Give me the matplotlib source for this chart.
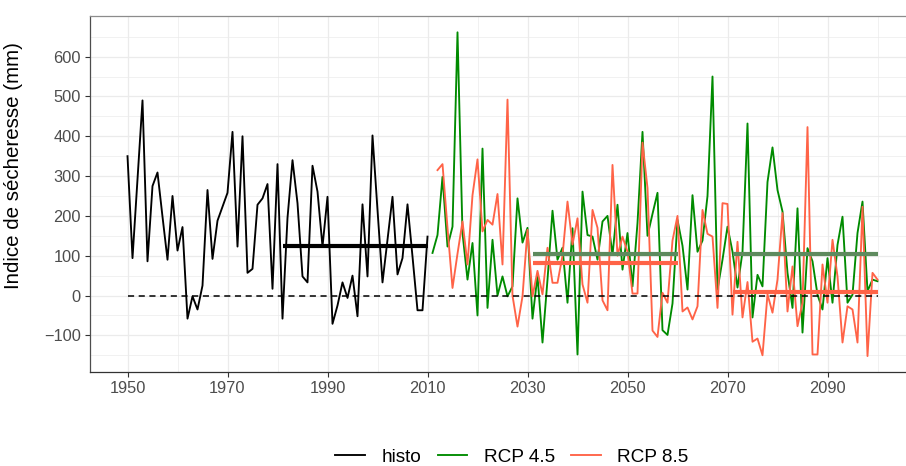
import numpy as np
import matplotlib
matplotlib.use("Agg")
import matplotlib.pyplot as plt
from matplotlib.lines import Line2D

plt.rcParams['font.family'] = ['Liberation Sans', 'DejaVu Sans']

# indice de secheresse annuel (mm)
annees_histo = np.arange(1950, 2011)
histo = [350, 94, 292, 490, 86, 275, 309, 198, 90, 250,
         113, 172, -58, -2, -35, 25, 265, 92, 188, 223,
         258, 411, 123, 400, 57, 67, 228, 244, 280, 17,
         330, -58, 195, 340, 232, 48, 33, 326, 261, 123,
         248, -71, -25, 33, -6, 50, -52, 229, 48, 402,
         215, 33, 140, 248, 53, 94, 229, 98, -37, -37, 148]

annees_rcp45 = np.arange(2011, 2101)
rcp45 = [107, 152, 298, 123, 173, 661, 157, 40, 132, -50,
         369, -31, 140, 0, 48, -2, 23, 244, 133, 170,
         -58, 50, -118, 40, 213, 90, 120, -18, 169, -148,
         261, 152, 148, 90, 186, 200, 102, 228, 65, 157,
         23, 182, 411, 150, 205, 258, -87, -99, -20, 190,
         125, 15, 252, 110, 138, 250, 550, 15, 90, 173,
         110, 20, 110, 432, -55, 52, 23, 285, 372, 265,
         211, 57, -31, 219, -93, 119, 86, 2, -35, 94,
         -18, 127, 198, -18, 2, 157, 236, 11, 40, 36]

annees_rcp85 = np.arange(2012, 2101)
rcp85 = [315, 330, 170, 19, 105, 186, 78, 252, 342,
         161, 190, 178, 255, 78, 492, 0, -78, -2, 165,
         -2, 62, 3, 120, 32, 32, 100, 236, 128, 194,
         28, -18, 215, 170, -12, -37, 328, 100, 148, 110,
         5, 5, 384, 270, -88, -104, 7, -18, 138, 200,
         -40, -30, -60, -27, 215, 155, 148, -31, 232, 230,
         -48, 135, -55, 34, -116, -108, -150, 3, -43, 40,
         207, -40, 73, -77, -18, 423, -148, -148, 78, -18,
         140, 48, -118, -27, -35, -118, 223, -152, 57, 40]

# moyennes sur les periodes de reference
periodes = [(1981, 2010), (2031, 2060), (2071, 2100)]
moy_histo = 125
moy_rcp45 = [104, 105]
moy_rcp85 = [82, 8]

col_histo = 'black'
col_45 = '#008B00'
col_85 = '#FF6347'
col_45_moy = '#5E8A5E'

fig = plt.figure(figsize=(9.06, 4.66), dpi=100)
ax = fig.add_axes([90/906, 1 - 372/466, 825/906, 356/466])

ax.plot(annees_histo, histo, color=col_histo, lw=1.35, zorder=3)
ax.plot(annees_rcp45, rcp45, color=col_45, lw=1.35, zorder=3)
ax.plot(annees_rcp85, rcp85, color=col_85, lw=1.35, zorder=3)

ax.plot(periodes[0], [moy_histo, moy_histo], color=col_histo, lw=3, zorder=4,
        solid_capstyle='butt')
for p, m45, m85 in zip(periodes[1:], moy_rcp45, moy_rcp85):
    ax.plot(p, [m45, m45], color=col_45_moy, lw=3, zorder=4, solid_capstyle='butt')
    ax.plot(p, [m85, m85], color=col_85, lw=3, zorder=4, solid_capstyle='butt')

ax.plot([1950, 2100], [0, 0], color='black', lw=1.1, ls=(0, (4, 3)), zorder=5)

ax.set_xlim(1942.5, 2107.5)
ax.set_ylim(-192, 702)
ax.set_xticks(np.arange(1950, 2100, 20))
ax.set_xticks(np.arange(1960, 2110, 20), minor=True)
ax.set_yticks(np.arange(-100, 700, 100))
ax.set_yticks(np.arange(-150, 700, 100), minor=True)
ax.grid(which='major', color='#EBEBEB', lw=0.9)
ax.grid(which='minor', color='#EBEBEB', lw=0.5)
ax.set_axisbelow(True)

ax.tick_params(which='major', length=3.5, width=0.8, color='#333333',
               labelsize=11.8, labelcolor='#4D4D4D', pad=3)
ax.tick_params(which='minor', length=0)

ax.spines['top'].set_color('#8C8C8C')
ax.spines['left'].set_color('#4D4D4D')
ax.spines['bottom'].set_color('#333333')
ax.spines['right'].set_visible(False)
for s in ax.spines.values():
    s.set_linewidth(0.9)

ax.set_ylabel('Indice de sécheresse (mm)', fontsize=14.8)
ax.yaxis.set_label_coords(-0.081, 0.579)

handles = [Line2D([], [], color=col_histo, lw=1.35),
           Line2D([], [], color=col_45, lw=1.35),
           Line2D([], [], color=col_85, lw=1.35)]
fig.legend(handles, ['histo', 'RCP 4.5', 'RCP 8.5'], loc='center',
           bbox_to_anchor=(512/906, 1 - 457/466), ncol=3, frameon=False,
           fontsize=13.7, handlelength=1.55, handletextpad=0.88, columnspacing=0.85)

fig.savefig('out.png', dpi=100)
